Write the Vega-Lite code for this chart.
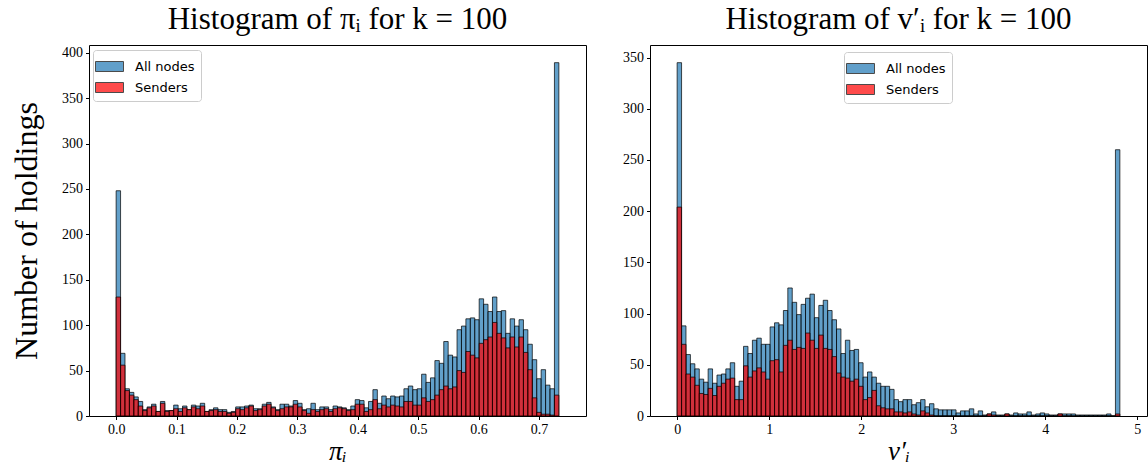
{
"$schema": "https://vega.github.io/schema/vega-lite/v6.json",
"padding": {"left": 10, "top": 3, "right": 0, "bottom": 0},
"autosize": {"type": "pad"},
"background": "white",
"spacing": 35,
"config": {
  "view": {"stroke": "black", "strokeWidth": 1},
  "axis": {"labelFont": "Liberation Serif", "labelFontSize": 14, "labelColor": "black", "tickColor": "black", "domainColor": "black", "tickSize": 3.5, "grid": false, "labelPadding": 3, "titleFont": "Liberation Serif", "titleFontWeight": "normal", "titleColor": "black", "domain": false},
  "title": {"font": "Liberation Serif", "fontSize": 31, "fontWeight": "normal", "color": "black", "offset": 9},
  "legend": {"orient": "none", "title": null, "symbolType": "M-1.4,-0.5H1.4V0.5H-1.4Z", "symbolSize": 400, "symbolStrokeColor": "black", "symbolStrokeWidth": 1, "symbolOpacity": 0.7, "labelFont": "DejaVu Sans", "labelFontSize": 13, "labelColor": "black", "padding": 6, "strokeColor": "#cccccc", "fillColor": "rgba(255,255,255,0.8)", "cornerRadius": 3, "rowPadding": 3, "labelOffset": 15}
},
"datasets": {
"pi": [
{"lo":0,"hi":0.00733,"all":248,"senders":131},
{"lo":0.00733,"hi":0.01466,"all":69,"senders":56},
{"lo":0.01466,"hi":0.02199,"all":30,"senders":28},
{"lo":0.02199,"hi":0.02932,"all":26,"senders":23},
{"lo":0.02932,"hi":0.03665,"all":21,"senders":18},
{"lo":0.03665,"hi":0.04398,"all":16,"senders":11},
{"lo":0.04398,"hi":0.05131,"all":7,"senders":6},
{"lo":0.05131,"hi":0.05864,"all":10,"senders":9},
{"lo":0.05864,"hi":0.06597,"all":13,"senders":11},
{"lo":0.06597,"hi":0.0733,"all":5,"senders":5},
{"lo":0.0733,"hi":0.08063,"all":16,"senders":14},
{"lo":0.08063,"hi":0.08796,"all":6,"senders":5},
{"lo":0.08796,"hi":0.09529,"all":6,"senders":6},
{"lo":0.09529,"hi":0.10262,"all":12,"senders":8},
{"lo":0.10262,"hi":0.10995,"all":8,"senders":5},
{"lo":0.10995,"hi":0.11728,"all":11,"senders":9},
{"lo":0.11728,"hi":0.12461,"all":7,"senders":7},
{"lo":0.12461,"hi":0.13194,"all":12,"senders":10},
{"lo":0.13194,"hi":0.13927,"all":11,"senders":8},
{"lo":0.13927,"hi":0.1466,"all":14,"senders":11},
{"lo":0.1466,"hi":0.15393,"all":5,"senders":5},
{"lo":0.15393,"hi":0.16126,"all":7,"senders":6},
{"lo":0.16126,"hi":0.16859,"all":9,"senders":7},
{"lo":0.16859,"hi":0.17592,"all":7,"senders":5},
{"lo":0.17592,"hi":0.18325,"all":7,"senders":5},
{"lo":0.18325,"hi":0.19058,"all":4,"senders":3},
{"lo":0.19058,"hi":0.19791,"all":5,"senders":4},
{"lo":0.19791,"hi":0.20524,"all":10,"senders":8},
{"lo":0.20524,"hi":0.21257,"all":10,"senders":7},
{"lo":0.21257,"hi":0.2199,"all":11,"senders":9},
{"lo":0.2199,"hi":0.22723,"all":12,"senders":11},
{"lo":0.22723,"hi":0.23456,"all":8,"senders":6},
{"lo":0.23456,"hi":0.24189,"all":8,"senders":7},
{"lo":0.24189,"hi":0.24922,"all":13,"senders":11},
{"lo":0.24922,"hi":0.25655,"all":15,"senders":13},
{"lo":0.25655,"hi":0.26388,"all":10,"senders":9},
{"lo":0.26388,"hi":0.27121,"all":7,"senders":6},
{"lo":0.27121,"hi":0.27854,"all":13,"senders":8},
{"lo":0.27854,"hi":0.28587,"all":13,"senders":10},
{"lo":0.28587,"hi":0.2932,"all":11,"senders":10},
{"lo":0.2932,"hi":0.30053,"all":17,"senders":13},
{"lo":0.30053,"hi":0.30786,"all":14,"senders":10},
{"lo":0.30786,"hi":0.31519,"all":7,"senders":6},
{"lo":0.31519,"hi":0.32252,"all":8,"senders":3},
{"lo":0.32252,"hi":0.32985,"all":14,"senders":7},
{"lo":0.32985,"hi":0.33718,"all":7,"senders":5},
{"lo":0.33718,"hi":0.34451,"all":10,"senders":7},
{"lo":0.34451,"hi":0.35184,"all":10,"senders":8},
{"lo":0.35184,"hi":0.35917,"all":7,"senders":5},
{"lo":0.35917,"hi":0.3665,"all":11,"senders":8},
{"lo":0.3665,"hi":0.37383,"all":10,"senders":9},
{"lo":0.37383,"hi":0.38116,"all":9,"senders":8},
{"lo":0.38116,"hi":0.38849,"all":7,"senders":6},
{"lo":0.38849,"hi":0.39582,"all":11,"senders":7},
{"lo":0.39582,"hi":0.40315,"all":18,"senders":13},
{"lo":0.40315,"hi":0.41048,"all":17,"senders":13},
{"lo":0.41048,"hi":0.41781,"all":9,"senders":5},
{"lo":0.41781,"hi":0.42514,"all":16,"senders":7},
{"lo":0.42514,"hi":0.43247,"all":29,"senders":18},
{"lo":0.43247,"hi":0.4398,"all":14,"senders":8},
{"lo":0.4398,"hi":0.44713,"all":22,"senders":12},
{"lo":0.44713,"hi":0.45446,"all":19,"senders":10},
{"lo":0.45446,"hi":0.46179,"all":22,"senders":12},
{"lo":0.46179,"hi":0.46912,"all":21,"senders":11},
{"lo":0.46912,"hi":0.47645,"all":22,"senders":10},
{"lo":0.47645,"hi":0.48378,"all":30,"senders":16},
{"lo":0.48378,"hi":0.49111,"all":33,"senders":16},
{"lo":0.49111,"hi":0.49844,"all":29,"senders":12},
{"lo":0.49844,"hi":0.50577,"all":30,"senders":12},
{"lo":0.50577,"hi":0.5131,"all":46,"senders":20},
{"lo":0.5131,"hi":0.52043,"all":37,"senders":16},
{"lo":0.52043,"hi":0.52776,"all":42,"senders":18},
{"lo":0.52776,"hi":0.53509,"all":61,"senders":23},
{"lo":0.53509,"hi":0.54242,"all":58,"senders":29},
{"lo":0.54242,"hi":0.54975,"all":82,"senders":33},
{"lo":0.54975,"hi":0.55708,"all":67,"senders":30},
{"lo":0.55708,"hi":0.56441,"all":65,"senders":32},
{"lo":0.56441,"hi":0.57174,"all":95,"senders":50},
{"lo":0.57174,"hi":0.57907,"all":99,"senders":48},
{"lo":0.57907,"hi":0.5864,"all":107,"senders":71},
{"lo":0.5864,"hi":0.59373,"all":108,"senders":67},
{"lo":0.59373,"hi":0.60106,"all":106,"senders":64},
{"lo":0.60106,"hi":0.60839,"all":129,"senders":80},
{"lo":0.60839,"hi":0.61572,"all":123,"senders":84},
{"lo":0.61572,"hi":0.62305,"all":115,"senders":87},
{"lo":0.62305,"hi":0.63038,"all":131,"senders":103},
{"lo":0.63038,"hi":0.63771,"all":115,"senders":91},
{"lo":0.63771,"hi":0.64504,"all":116,"senders":86},
{"lo":0.64504,"hi":0.65237,"all":91,"senders":75},
{"lo":0.65237,"hi":0.6597,"all":107,"senders":87},
{"lo":0.6597,"hi":0.66703,"all":99,"senders":76},
{"lo":0.66703,"hi":0.67436,"all":106,"senders":87},
{"lo":0.67436,"hi":0.68169,"all":95,"senders":70},
{"lo":0.68169,"hi":0.68902,"all":79,"senders":51},
{"lo":0.68902,"hi":0.69635,"all":62,"senders":20},
{"lo":0.69635,"hi":0.70368,"all":41,"senders":4},
{"lo":0.70368,"hi":0.71101,"all":51,"senders":2},
{"lo":0.71101,"hi":0.71834,"all":34,"senders":2},
{"lo":0.71834,"hi":0.72567,"all":30,"senders":1},
{"lo":0.72567,"hi":0.733,"all":389,"senders":23}
],
"v": [
{"lo":0,"hi":0.0481,"all":345,"senders":204},
{"lo":0.0481,"hi":0.0962,"all":88,"senders":70},
{"lo":0.0962,"hi":0.1443,"all":60,"senders":41},
{"lo":0.1443,"hi":0.1924,"all":51,"senders":38},
{"lo":0.1924,"hi":0.2405,"all":46,"senders":30},
{"lo":0.2405,"hi":0.2886,"all":36,"senders":22},
{"lo":0.2886,"hi":0.3367,"all":33,"senders":21},
{"lo":0.3367,"hi":0.3848,"all":46,"senders":27},
{"lo":0.3848,"hi":0.4329,"all":32,"senders":20},
{"lo":0.4329,"hi":0.481,"all":40,"senders":29},
{"lo":0.481,"hi":0.5291,"all":41,"senders":32},
{"lo":0.5291,"hi":0.5772,"all":46,"senders":36},
{"lo":0.5772,"hi":0.6253,"all":52,"senders":37},
{"lo":0.6253,"hi":0.6734,"all":29,"senders":16},
{"lo":0.6734,"hi":0.7215,"all":34,"senders":16},
{"lo":0.7215,"hi":0.7696,"all":68,"senders":49},
{"lo":0.7696,"hi":0.8177,"all":61,"senders":38},
{"lo":0.8177,"hi":0.8658,"all":74,"senders":44},
{"lo":0.8658,"hi":0.9139,"all":76,"senders":47},
{"lo":0.9139,"hi":0.962,"all":70,"senders":43},
{"lo":0.962,"hi":1.0101,"all":70,"senders":36},
{"lo":1.0101,"hi":1.0582,"all":87,"senders":54},
{"lo":1.0582,"hi":1.1063,"all":91,"senders":55},
{"lo":1.1063,"hi":1.1544,"all":89,"senders":43},
{"lo":1.1544,"hi":1.2025,"all":103,"senders":69},
{"lo":1.2025,"hi":1.2506,"all":125,"senders":74},
{"lo":1.2506,"hi":1.2987,"all":111,"senders":65},
{"lo":1.2987,"hi":1.3468,"all":99,"senders":67},
{"lo":1.3468,"hi":1.3949,"all":109,"senders":66},
{"lo":1.3949,"hi":1.443,"all":115,"senders":81},
{"lo":1.443,"hi":1.4911,"all":119,"senders":74},
{"lo":1.4911,"hi":1.5392,"all":96,"senders":66},
{"lo":1.5392,"hi":1.5873,"all":108,"senders":79},
{"lo":1.5873,"hi":1.6354,"all":113,"senders":66},
{"lo":1.6354,"hi":1.6835,"all":103,"senders":65},
{"lo":1.6835,"hi":1.7316,"all":94,"senders":58},
{"lo":1.7316,"hi":1.7797,"all":85,"senders":42},
{"lo":1.7797,"hi":1.8278,"all":61,"senders":38},
{"lo":1.8278,"hi":1.8759,"all":74,"senders":37},
{"lo":1.8759,"hi":1.924,"all":64,"senders":34},
{"lo":1.924,"hi":1.9721,"all":65,"senders":36},
{"lo":1.9721,"hi":2.0202,"all":52,"senders":29},
{"lo":2.0202,"hi":2.0683,"all":38,"senders":16},
{"lo":2.0683,"hi":2.1164,"all":43,"senders":18},
{"lo":2.1164,"hi":2.1645,"all":38,"senders":25},
{"lo":2.1645,"hi":2.2126,"all":32,"senders":10},
{"lo":2.2126,"hi":2.2607,"all":29,"senders":8},
{"lo":2.2607,"hi":2.3088,"all":29,"senders":7},
{"lo":2.3088,"hi":2.3569,"all":26,"senders":7},
{"lo":2.3569,"hi":2.405,"all":16,"senders":4},
{"lo":2.405,"hi":2.4531,"all":14,"senders":4},
{"lo":2.4531,"hi":2.5012,"all":16,"senders":3},
{"lo":2.5012,"hi":2.5493,"all":16,"senders":4},
{"lo":2.5493,"hi":2.5974,"all":11,"senders":2},
{"lo":2.5974,"hi":2.6455,"all":13,"senders":1},
{"lo":2.6455,"hi":2.6936,"all":16,"senders":5},
{"lo":2.6936,"hi":2.7417,"all":9,"senders":3},
{"lo":2.7417,"hi":2.7898,"all":12,"senders":1},
{"lo":2.7898,"hi":2.8379,"all":7,"senders":0},
{"lo":2.8379,"hi":2.886,"all":6,"senders":0},
{"lo":2.886,"hi":2.9341,"all":6,"senders":0},
{"lo":2.9341,"hi":2.9822,"all":6,"senders":0},
{"lo":2.9822,"hi":3.0303,"all":6,"senders":0},
{"lo":3.0303,"hi":3.0784,"all":3,"senders":0},
{"lo":3.0784,"hi":3.1265,"all":5,"senders":0},
{"lo":3.1265,"hi":3.1746,"all":5,"senders":0},
{"lo":3.1746,"hi":3.2227,"all":7,"senders":0},
{"lo":3.2227,"hi":3.2708,"all":2,"senders":0},
{"lo":3.2708,"hi":3.3189,"all":5,"senders":0},
{"lo":3.3189,"hi":3.367,"all":1,"senders":0},
{"lo":3.367,"hi":3.4151,"all":2,"senders":2},
{"lo":3.4151,"hi":3.4632,"all":4,"senders":1},
{"lo":3.4632,"hi":3.5113,"all":1,"senders":0},
{"lo":3.5113,"hi":3.5594,"all":1,"senders":0},
{"lo":3.5594,"hi":3.6075,"all":2,"senders":2},
{"lo":3.6075,"hi":3.6556,"all":1,"senders":0},
{"lo":3.6556,"hi":3.7037,"all":3,"senders":0},
{"lo":3.7037,"hi":3.7518,"all":2,"senders":0},
{"lo":3.7518,"hi":3.7999,"all":2,"senders":0},
{"lo":3.7999,"hi":3.848,"all":4,"senders":0},
{"lo":3.848,"hi":3.8961,"all":1,"senders":0},
{"lo":3.8961,"hi":3.9442,"all":2,"senders":0},
{"lo":3.9442,"hi":3.9923,"all":3,"senders":0},
{"lo":3.9923,"hi":4.0404,"all":2,"senders":0},
{"lo":4.0404,"hi":4.0885,"all":1,"senders":0},
{"lo":4.0885,"hi":4.1366,"all":1,"senders":0},
{"lo":4.1366,"hi":4.1847,"all":2,"senders":2},
{"lo":4.1847,"hi":4.2328,"all":2,"senders":0},
{"lo":4.2328,"hi":4.2809,"all":2,"senders":0},
{"lo":4.2809,"hi":4.329,"all":2,"senders":0},
{"lo":4.329,"hi":4.3771,"all":1,"senders":0},
{"lo":4.3771,"hi":4.4252,"all":1,"senders":0},
{"lo":4.4252,"hi":4.4733,"all":1,"senders":0},
{"lo":4.4733,"hi":4.5214,"all":1,"senders":0},
{"lo":4.5214,"hi":4.5695,"all":1,"senders":0},
{"lo":4.5695,"hi":4.6176,"all":1,"senders":0},
{"lo":4.6176,"hi":4.6657,"all":1,"senders":0},
{"lo":4.6657,"hi":4.7138,"all":2,"senders":0},
{"lo":4.7138,"hi":4.7619,"all":0,"senders":0},
{"lo":4.7619,"hi":4.81,"all":260,"senders":2}
]
},
"resolve": {"scale": {"color": "independent"}, "legend": {"color": "independent"}},
"hconcat": [
{
  "width": 497, "height": 371,
  "data": {"name": "pi"},
  "title": {"text": "Histogram of πᵢ for k = 100"},
  "encoding": {
    "x": {"field": "lo", "type": "quantitative", "scale": {"domain": [-0.03665, 0.76965], "nice": false, "zero": false}, "axis": {"values": [0, 0.1, 0.2, 0.3, 0.4, 0.5, 0.6, 0.7], "format": ".1f", "title": "πᵢ", "titleFontSize": 27, "titleFontStyle": "italic", "titlePadding": 2}},
    "x2": {"field": "hi"},
    "y2": {"datum": 0}
  },
  "layer": [
    {"mark": {"type": "bar", "orient": "vertical", "stroke": "black", "strokeWidth": 1, "fillOpacity": 0.7, "strokeOpacity": 0.7},
     "encoding": {
       "y": {"field": "all", "type": "quantitative", "scale": {"domain": [0, 408.45], "nice": false}, "axis": {"values": [0, 50, 100, 150, 200, 250, 300, 350, 400], "title": "Number of holdings", "titleFontSize": 32, "titlePadding": 18}},
       "color": {"datum": "All nodes", "type": "nominal", "scale": {"domain": ["All nodes", "Senders"], "range": ["#1f77b4", "#ff0000"]}, "legend": {"legendX": 4, "legendY": 5}}
     }},
    {"mark": {"type": "bar", "orient": "vertical", "stroke": "black", "strokeWidth": 1, "fillOpacity": 0.7, "strokeOpacity": 0.7},
     "encoding": {
       "y": {"field": "senders", "type": "quantitative"},
       "color": {"datum": "Senders", "type": "nominal"}
     }}
  ]
},
{
  "width": 497, "height": 371,
  "data": {"name": "v"},
  "title": {"text": "Histogram of v′ᵢ for k = 100"},
  "encoding": {
    "x": {"field": "lo", "type": "quantitative", "scale": {"domain": [-0.2405, 5.0505], "nice": false, "zero": false}, "axis": {"values": [0, 1, 2, 3, 4, 5], "format": "d", "title": "v′ᵢ", "titleFontSize": 27, "titleFontStyle": "italic", "titlePadding": 2}},
    "x2": {"field": "hi"},
    "y2": {"datum": 0}
  },
  "layer": [
    {"mark": {"type": "bar", "orient": "vertical", "stroke": "black", "strokeWidth": 1, "fillOpacity": 0.7, "strokeOpacity": 0.7},
     "encoding": {
       "y": {"field": "all", "type": "quantitative", "scale": {"domain": [0, 362.25], "nice": false}, "axis": {"values": [0, 50, 100, 150, 200, 250, 300, 350], "title": null}},
       "color": {"datum": "All nodes", "type": "nominal", "scale": {"domain": ["All nodes", "Senders"], "range": ["#1f77b4", "#ff0000"]}, "legend": {"legendX": 194, "legendY": 7}}
     }},
    {"mark": {"type": "bar", "orient": "vertical", "stroke": "black", "strokeWidth": 1, "fillOpacity": 0.7, "strokeOpacity": 0.7},
     "encoding": {
       "y": {"field": "senders", "type": "quantitative"},
       "color": {"datum": "Senders", "type": "nominal"}
     }}
  ]
}
]
}
